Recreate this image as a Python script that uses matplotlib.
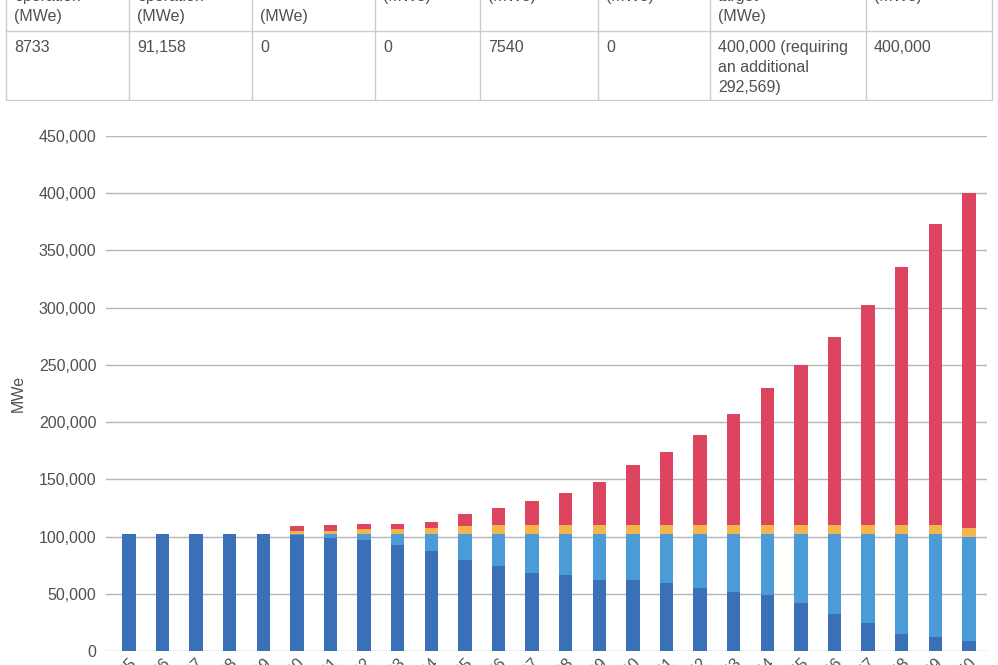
import matplotlib.pyplot as plt
import numpy as np

# 年份
years = [str(y) for y in range(2025, 2051)]

# 各类装机容量 (MWe)
existing = [102600, 102600, 102600, 102600, 102600, 101100, 99000, 97000, 92900, 87600,
            79500, 74500, 67900, 66400, 62000, 62000, 59400, 55000, 51600, 49200,
            41700, 32100, 24700, 14900, 12500, 8733]
extended = [0, 0, 0, 0, 0, 1500, 3500, 5500, 9600, 14900,
            23000, 28000, 34600, 36100, 40500, 40500, 43100, 47500, 50900, 53300,
            60800, 70400, 77800, 87600, 90000, 91158]
planned = [0, 0, 0, 0, 0, 2100, 2600, 4100, 4100, 5000,
           6500, 7600, 7600, 7600, 7600, 7600, 7600, 7600, 7600, 7900,
           7600, 7600, 7600, 7600, 7600, 7540]
new_build = [0, 0, 0, 0, 0, 4900, 5000, 4600, 4600, 4900,
             10700, 14600, 21200, 28200, 37800, 52100, 63800, 78400, 96700, 119400,
             140100, 164000, 192000, 225200, 263300, 292569]

# 表格内容 (上方被截断)
table_headers = [
    ["Existing reactors", "in", "operation", "(MWe)"],
    ["Reactors", "in", "operation", "(MWe)"],
    ["Under", "Construction", "(MWe)"],
    ["Planned", "(MWe)"],
    ["Proposed", "(MWe)"],
    ["Retired", "(MWe)"],
    ["Capacity", "target", "(MWe)"],
    ["Total", "(MWe)"],
]
table_values = ["8733", "91,158", "0", "0", "7540", "0",
                "400,000 (requiring\nan additional\n292,569)", "400,000"]
col_edges = [6, 129, 252, 375, 480, 598, 710, 866, 992]

c_dark = '#3a70b8'
c_light = '#4b9bd7'
c_orange = '#f4b54c'
c_red = '#dc4460'
c_text = '#505050'
c_grid = '#b5b5b5'

plt.rcParams['font.family'] = ['Liberation Sans', 'DejaVu Sans']

fig = plt.figure(figsize=(9.98, 6.65), dpi=100)

# 表格
tab = fig.add_axes([0, (665 - 101) / 665, 1, 141 / 665])
tab.set_xlim(0, 998)
tab.set_ylim(101, -40)
tab.axis('off')
for xe in col_edges:
    tab.plot([xe, xe], [-40, 100], color='#cccccc', lw=1)
tab.plot([col_edges[0], col_edges[-1]], [30.5, 30.5], color='#cccccc', lw=1)
tab.plot([col_edges[0], col_edges[-1]], [100, 100], color='#cccccc', lw=1)
for i, lines in enumerate(table_headers):
    n = len(lines)
    for j, line in enumerate(lines):
        # 表头顶部对齐
        if n == 4:
            ypos = 16 - 20 * (3 - j)
        elif n == 3:
            ypos = 16 - 20 * (2 - j)
        else:
            ypos = -4 - 20 * (1 - j)
        tab.text(col_edges[i] + 8, ypos, line, fontsize=11.5, color=c_text,
                 va='center', ha='left', clip_on=False)
    tab.text(col_edges[i] + 8, 40, table_values[i], fontsize=11.5, color=c_text,
             va='top', ha='left', linespacing=1.4)

# 堆叠柱状图
ax = fig.add_axes([106 / 998, 14 / 665, 881 / 998, 515 / 665])
x = np.arange(len(years))
w = 0.4
ax.bar(x, existing, w, color=c_dark, zorder=3)
b1 = np.array(existing)
ax.bar(x, extended, w, bottom=b1, color=c_light, zorder=3)
b2 = b1 + np.array(extended)
ax.bar(x, planned, w, bottom=b2, color=c_orange, zorder=3)
b3 = b2 + np.array(planned)
ax.bar(x, new_build, w, bottom=b3, color=c_red, zorder=3)

ax.set_ylim(0, 450000)
ax.set_xlim(-0.684, 25.54)
ax.set_yticks(np.arange(0, 450001, 50000))
ax.set_yticklabels([f"{v:,}" for v in range(0, 450001, 50000)])
ax.set_xticks(x)
ax.set_xticklabels(years, rotation=45, ha='right', rotation_mode='anchor')
ax.yaxis.grid(True, color=c_grid, lw=1, zorder=0)
ax.tick_params(axis='both', length=0, labelsize=11.5, labelcolor=c_text)
ax.tick_params(axis='y', pad=7)
ax.tick_params(axis='x', pad=3)
for s in ax.spines.values():
    s.set_visible(False)
ax.set_ylabel("MWe", fontsize=11.5, color=c_text, labelpad=9)

plt.savefig("out.png", dpi=100)
